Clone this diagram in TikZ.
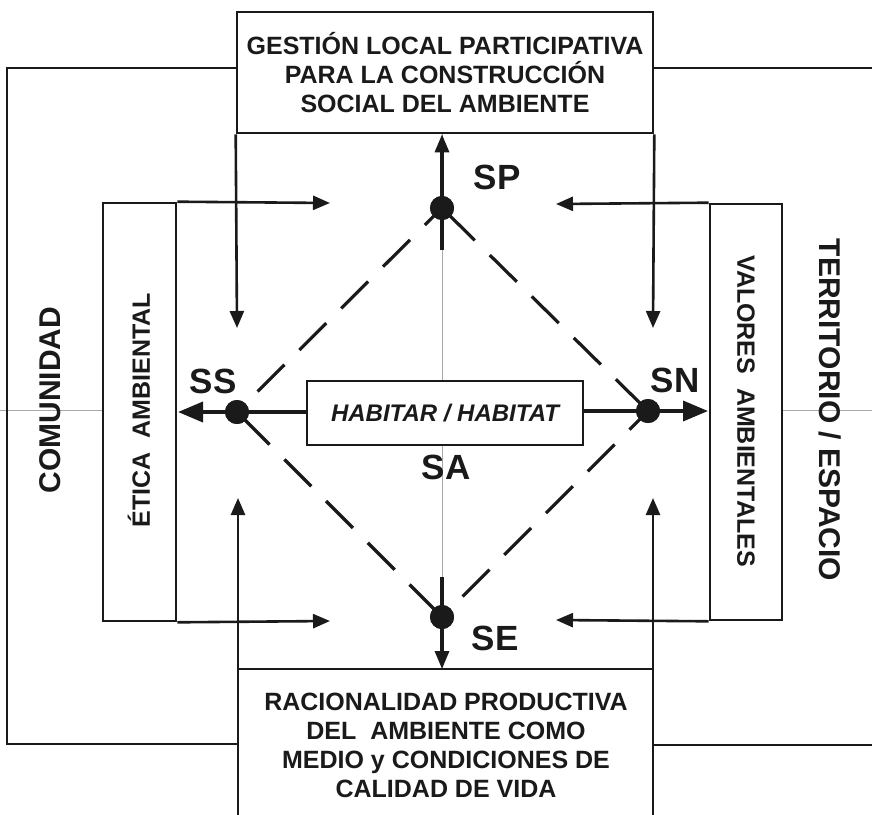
\documentclass[tikz,border=0pt]{standalone}
\usepackage{fontspec}
\setmainfont{Liberation Sans}
\usetikzlibrary{arrows.meta}
\definecolor{ink}{HTML}{1A1A1A}
\definecolor{guidegray}{HTML}{A8A8A8}
\tikzset{
  ln/.style={line width=2.6pt, draw=ink},
  thinarrow/.style={ln, -{Triangle[length=17pt,width=14pt]}},
  thickarrow/.style={line width=3.6pt, draw=ink, -{Triangle[length=25pt,width=20pt]}},
  vertarrow/.style={line width=3.2pt, draw=ink, -{Triangle[length=18pt,width=14pt]}},
  dashline/.style={line width=3.2pt, draw=ink, dash pattern=on 38pt off 21pt},
  guide/.style={line width=0.8pt, draw=guidegray},
  dotnode/.style={circle, fill=ink, minimum size=24pt, inner sep=0pt},
  lbl/.style={text=ink, font=\bfseries\fontsize{35}{40}\selectfont},
  boxtext/.style={text=ink, font=\bfseries\fontsize{25}{29}\selectfont, align=center},
  sidetext/.style={text=ink, font=\bfseries\fontsize{25}{29}\selectfont},
  bigside/.style={text=ink, font=\bfseries\fontsize{30}{34}\selectfont},
  frame/.style={draw=ink, line width=2.6pt, fill=white, inner sep=0pt},
}
\begin{document}
\begin{tikzpicture}[x=1pt,y=-1pt]
\useasboundingbox[fill=white] (0,0) rectangle (872,814);

% guide lines
\coordinate (gL1) at (0,410);
\coordinate (gL2) at (103,410);
\coordinate (gR1) at (782,410);
\coordinate (gR2) at (872,410);
\coordinate (gT) at (442,133);
\coordinate (gB) at (442,669);
\draw[guide] (gL1) -- (gL2);
\draw[guide] (gR1) -- (gR2);
\draw[guide] (gT) -- (gB);

% top box
\node[frame, minimum width=416pt, minimum height=121pt] (top) at (445,72.5) {};
\node[boxtext] (toptext) at (445,73) {GESTIÓN LOCAL PARTICIPATIVA\\PARA LA CONSTRUCCIÓN\\SOCIAL DEL AMBIENTE};

% bottom open box
\coordinate (bbl) at (238,820);
\coordinate (btl) at (238,669);
\coordinate (btr) at (653,669);
\coordinate (bbr) at (653,820);
\draw[ln] (bbl) -- (btl) -- (btr) -- (bbr);
\node[boxtext] (bottext) at (446,745) {RACIONALIDAD PRODUCTIVA\\DEL\ \ AMBIENTE COMO\\MEDIO y CONDICIONES DE\\CALIDAD DE VIDA};

% outer brackets
\coordinate (ol1) at (237,68);
\coordinate (ol2) at (7,68);
\coordinate (ol3) at (7,744);
\coordinate (ol4) at (238,744);
\draw[ln] (ol1) -- (ol2) -- (ol3) -- (ol4);
\coordinate (or1) at (653,68);
\coordinate (or2) at (880,68);
\coordinate (or3) at (653,745);
\coordinate (or4) at (880,745);
\draw[ln] (or1) -- (or2);
\draw[ln] (or3) -- (or4);

% side boxes
\node[frame, minimum width=73pt, minimum height=418pt] (etica) at (139.5,412) {};
\node[sidetext, rotate=90] (eticatext) at (139,410) {ÉTICA\ \ AMBIENTAL};
\node[frame, minimum width=72pt, minimum height=416pt] (valores) at (746,412) {};
\node[sidetext, rotate=-90] (valorestext) at (746,411) {VALORES\ \ AMBIENTALES};

\node[bigside, rotate=90] (comunidad) at (50,400) {COMUNIDAD};
\node[bigside, rotate=-90] (territorio) at (830,410) {TERRITORIO / ESPACIO};

% thin arrows
\coordinate (a1) at (237,328);
\coordinate (a2) at (653,328);
\coordinate (a3) at (330,203);
\coordinate (a4) at (330,621);
\coordinate (a5) at (556,204);
\coordinate (a6) at (556,620);
\coordinate (a7) at (238,498);
\coordinate (a8) at (653,498);
\draw[thinarrow] (top.south west) -- (a1);
\draw[thinarrow] (top.south east) -- (a2);
\draw[thinarrow] (etica.north east) -- (a3);
\draw[thinarrow] (etica.south east) -- (a4);
\draw[thinarrow] (valores.north west) -- (a5);
\draw[thinarrow] (valores.south west) -- (a6);
\draw[thinarrow] (btl) -- (a7);
\draw[thinarrow] (btr) -- (a8);

% center
\node[frame, minimum width=276pt, minimum height=64pt] (hab) at (445,413) {};
\node[text=ink, font=\bfseries\itshape\fontsize{24}{28}\selectfont] (habtext) at (445,413) {HABITAR / HABITAT};

\node[dotnode] (SP) at (442,208) {};
\node[dotnode] (SS) at (237,412) {};
\node[dotnode] (SN) at (648,411) {};
\node[dotnode] (SE) at (442,617) {};

\draw[dashline, dash phase=30pt] (SS.center) -- (SP.center);
\draw[dashline, dash phase=-8pt] (SP.center) -- (SN.center);
\draw[dashline, dash phase=-8pt] (SS.center) -- (SE.center);
\draw[dashline, dash phase=30pt] (SE.center) -- (SN.center);

\coordinate (spbase) at (442,250);
\coordinate (sebase) at (442,577);
\coordinate (sstip) at (178,412);
\coordinate (sntip) at (708,411);
\draw[vertarrow] (spbase) -- (top.south -| spbase);
\draw[vertarrow] (sebase) -- (btl -| sebase);
\draw[thickarrow] (hab.west |- SS) -- (sstip);
\draw[thickarrow] (hab.east |- SN) -- (sntip);

\node[dotnode] at (SP) {};
\node[dotnode] at (SS) {};
\node[dotnode] at (SN) {};
\node[dotnode] at (SE) {};

\node[lbl] (lSP) at (497,177) {SP};
\node[lbl] (lSS) at (213,381) {SS};
\node[lbl] (lSN) at (675,380) {SN};
\node[lbl] (lSA) at (446,467) {SA};
\node[lbl] (lSE) at (495,638) {SE};
\end{tikzpicture}
\end{document}
